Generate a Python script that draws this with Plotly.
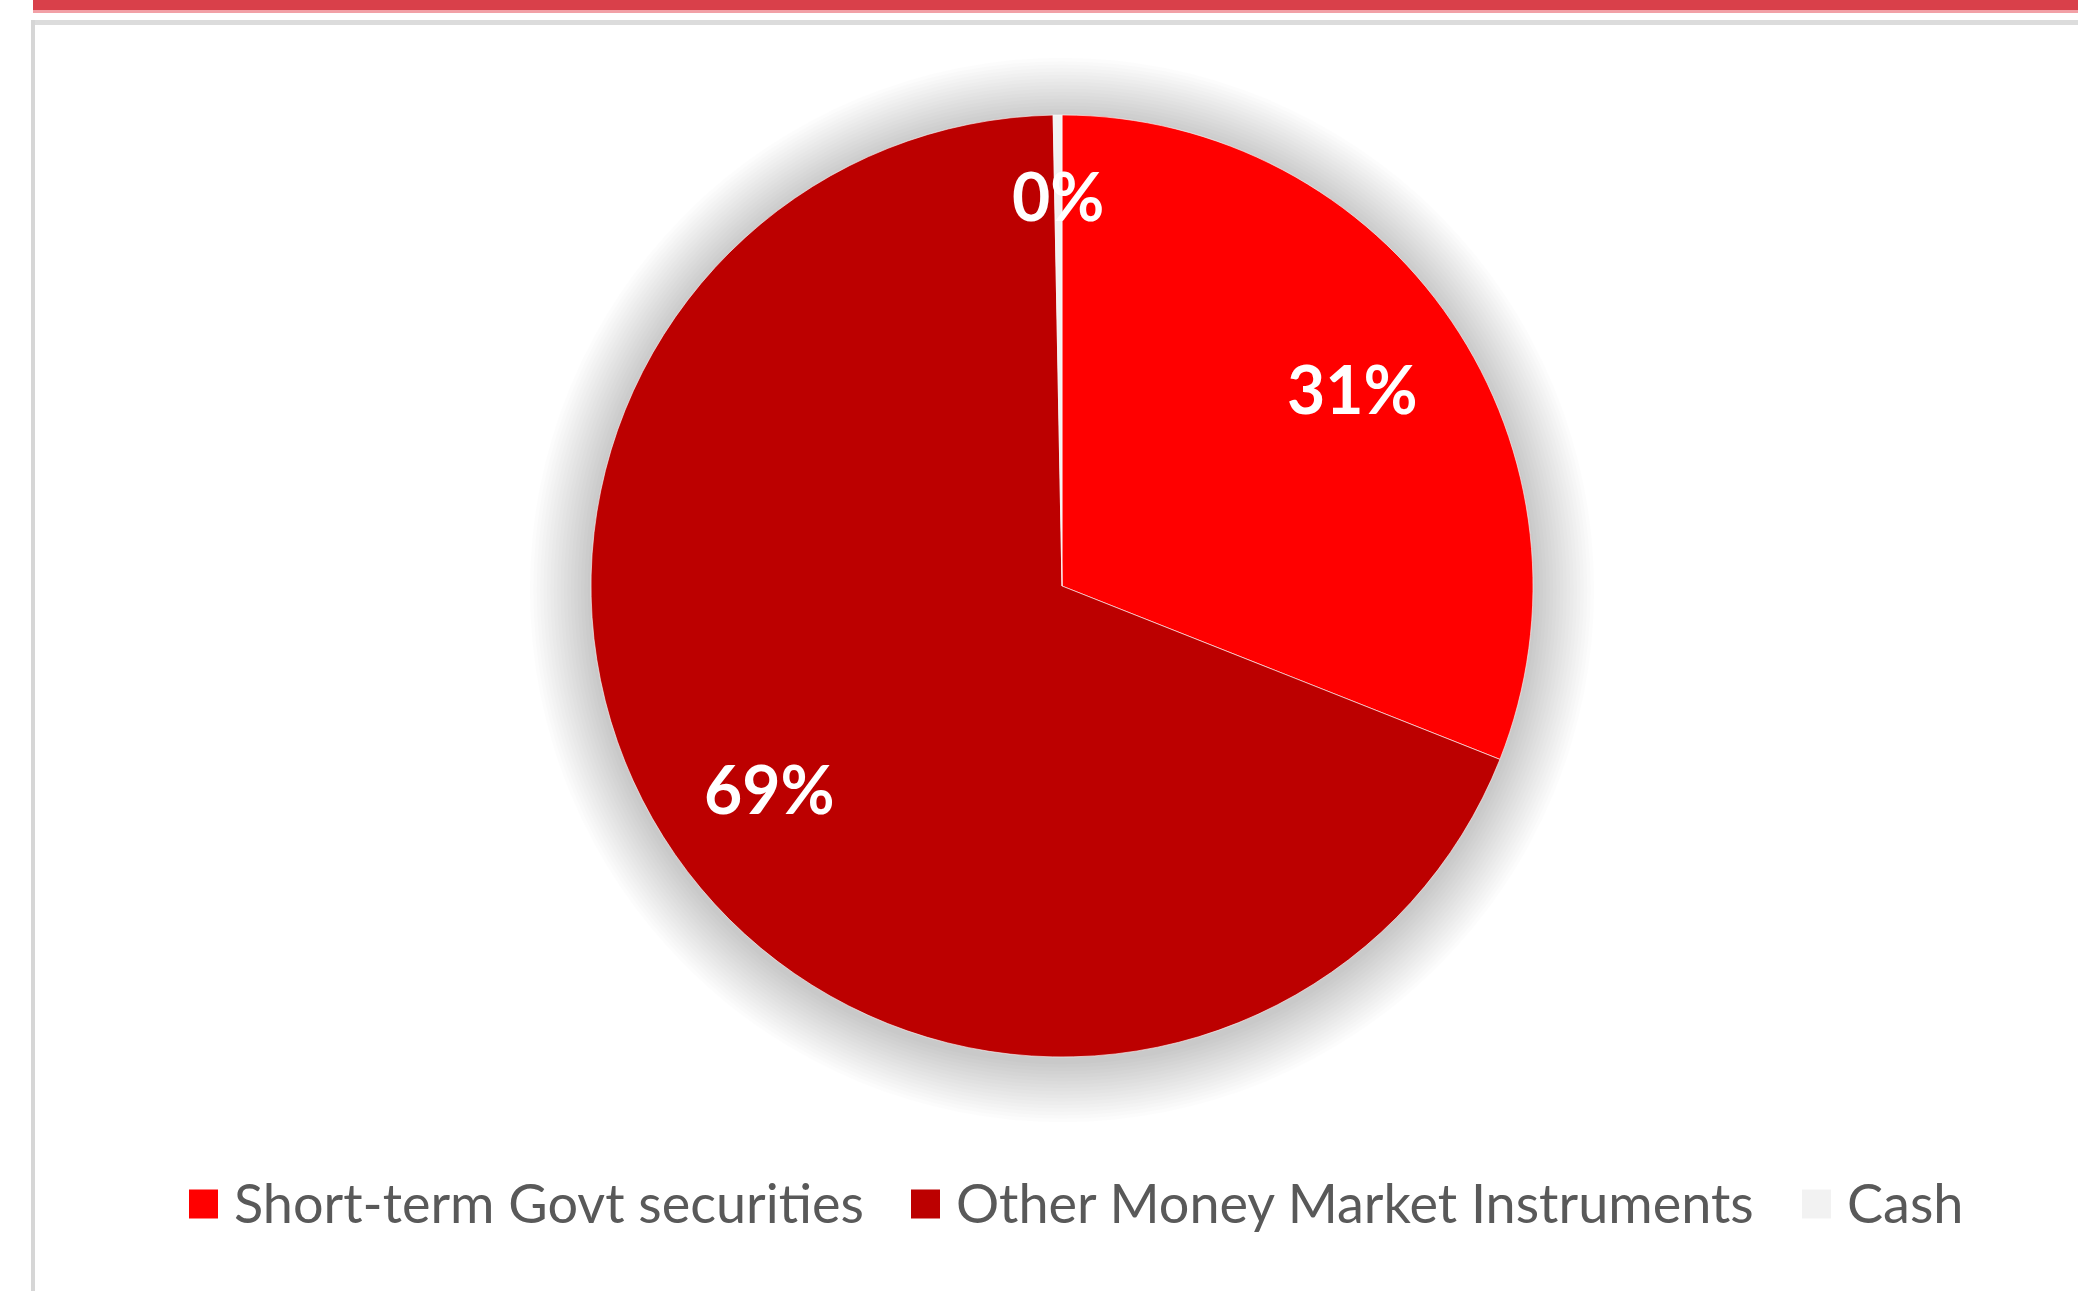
import math
import plotly.graph_objects as go

categories = ["Short-term Govt securities", "Other Money Market Instruments", "Cash"]
values = [31.0, 68.7, 0.3]
colors = ["#FF0000", "#BC0000", "#F2F2F2"]

W, H = 2078, 1291
cx, cy, r = 1062, 586, 471  # pixel center / radius of pie

dom_x = [(cx - r) / W, (cx + r) / W]
dom_y = [1 - (cy + r) / H, 1 - (cy - r) / H]

fig = go.Figure()
fig.add_trace(go.Pie(
    labels=categories,
    values=values,
    sort=False,
    direction="clockwise",
    rotation=0,
    marker=dict(colors=colors, line=dict(color="#FFFFFF", width=0.6)),
    textinfo="none",
    hoverinfo="label+percent",
    domain=dict(x=dom_x, y=dom_y),
    showlegend=False,
))

# labels placed at slice mid-angles, computed from the data
total = sum(values)
annotations = []
cum = 0.0
label_r = [0.745, 0.755, 0.83]
for v, lr in zip(values, label_r):
    mid = (cum + v / 2) / total * 2 * math.pi
    cum += v
    px = cx + lr * r * math.sin(mid)
    py = cy - lr * r * math.cos(mid)
    annotations.append(dict(
        x=px / W, y=1 - py / H, xref="paper", yref="paper",
        xanchor="center", yanchor="middle",
        text=f"<b>{round(v / total * 100)}%</b>", showarrow=False,
        font=dict(family="Lato", size=66, color="#FFFFFF"),
    ))

shapes = []
# page decoration: top red band, grey rule, left grey border
shapes.append(dict(type="rect", xref="paper", yref="paper", x0=33 / W, x1=1, y0=1 - 10 / H, y1=1,
                   fillcolor="#D9404A", line=dict(width=0), layer="below"))
shapes.append(dict(type="rect", xref="paper", yref="paper", x0=33 / W, x1=1, y0=1 - 13 / H, y1=1 - 10 / H,
                   fillcolor="#F2A0A6", line=dict(width=0), layer="below"))
shapes.append(dict(type="rect", xref="paper", yref="paper", x0=31 / W, x1=1, y0=1 - 25 / H, y1=1 - 20 / H,
                   fillcolor="#DCDCDC", line=dict(width=0), layer="below"))
shapes.append(dict(type="rect", xref="paper", yref="paper", x0=31 / W, x1=35 / W, y0=0, y1=1 - 20 / H,
                   fillcolor="#D6D6D6", line=dict(width=0), layer="below"))
# soft shadow around the pie
for k in range(18, 0, -1):
    rr = r + k * 3.4
    oy = 4
    shapes.append(dict(type="circle", xref="paper", yref="paper",
                       x0=(cx - rr) / W, x1=(cx + rr) / W,
                       y0=1 - (cy + oy + rr) / H, y1=1 - (cy + oy - rr) / H,
                       fillcolor="rgba(0,0,0,0.010)", line=dict(width=0), layer="below"))

# legend (square swatch + label), laid out in a row
legend_x = [189, 911, 1802]
legend_y = 1204
sw = 29
for name, col, lx in zip(categories, colors, legend_x):
    shapes.append(dict(type="rect", xref="paper", yref="paper",
                       x0=lx / W, x1=(lx + sw) / W,
                       y0=1 - (legend_y + sw / 2) / H, y1=1 - (legend_y - sw / 2) / H,
                       fillcolor=col, line=dict(width=0)))
    annotations.append(dict(
        x=(lx + sw + 14) / W, y=1 - (legend_y - 2) / H, xref="paper", yref="paper",
        xanchor="left", yanchor="middle", text=name, showarrow=False,
        font=dict(family="Lato", size=54, color="#595959"),
    ))

fig.update_layout(
    width=W, height=H,
    margin=dict(l=0, r=0, t=0, b=0),
    paper_bgcolor="#FFFFFF",
    plot_bgcolor="#FFFFFF",
    showlegend=False,
    annotations=annotations,
    shapes=shapes,
)

fig.write_html("out.html", config={"displayModeBar": False},
               post_script="document.body.style.margin='0';")
